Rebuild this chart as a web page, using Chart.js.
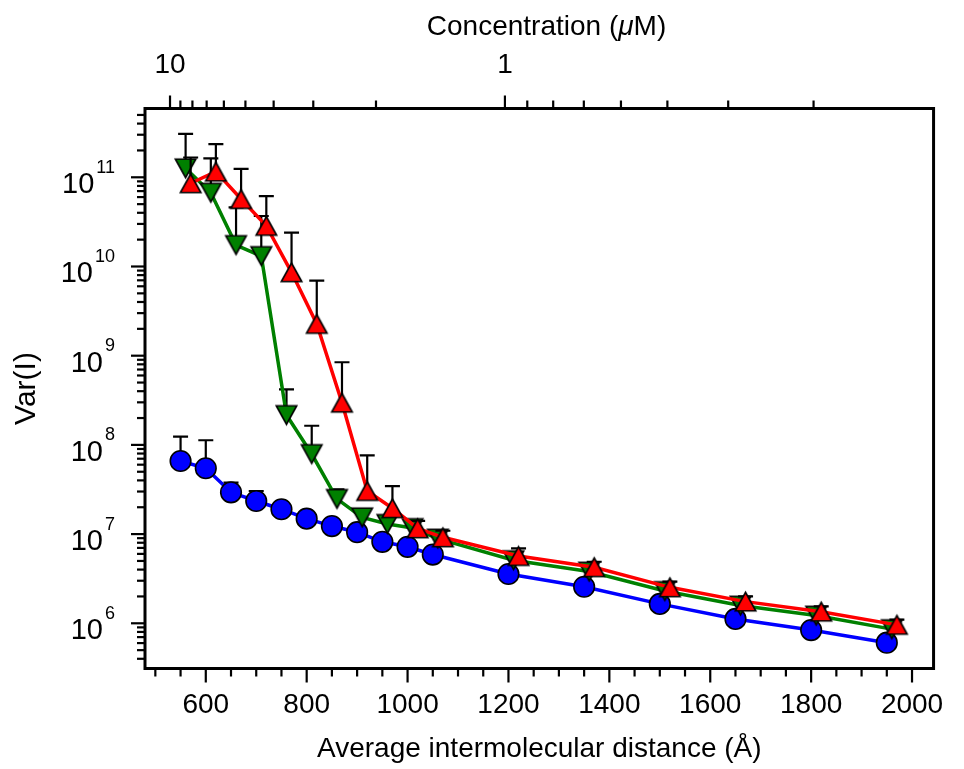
<!DOCTYPE html>
<html>
<head>
<meta charset="utf-8">
<script src="https://cdn.jsdelivr.net/npm/chart.js@4.4.1/dist/chart.umd.min.js"></script>
<style>
  html, body { margin: 0; padding: 0; background: #fff; }
  #wrap { width: 964px; height: 769px; }
</style>
</head>
<body>
<div id="wrap"><canvas id="varChart" width="964" height="769"></canvas></div>
<script>
// distance (Å), variance and upper error for each series
const blueDist = [550, 600, 650, 700, 750, 800, 850, 900, 950, 1000, 1050, 1200, 1350, 1500, 1650, 1800, 1950];
const blueVar = [6.6e7, 5.47e7, 2.94e7, 2.35e7, 1.9e7, 1.49e7, 1.23e7, 1.05e7, 8.2e6, 7.2e6, 5.9e6, 3.57e6, 2.57e6, 1.65e6, 1.12e6, 8.4e5, 6.06e5];
const blueErr = [5.8e7, 5.8e7, 8.3e6, 6.9e6, 3e6, 2e6, 1.5e6, 1.2e6, 1e6, 8e5, 6e5, 4e5, 3e5, 2e5, 1.2e5, 9e4, 6e4];

const greenDist = [560, 610, 660, 710, 760, 810, 860, 910, 960, 1010, 1060, 1210, 1360, 1510, 1660, 1810, 1960];
const greenVar = [1.26e11, 6.72e10, 1.74e10, 1.31e10, 2.16e8, 7.9e7, 2.48e7, 1.54e7, 1.3e7, 1.17e7, 8.9e6, 5.1e6, 3.8e6, 2.3e6, 1.58e6, 1.22e6, 8.6e5];
const greenErr = [1.8e11, 9.6e10, 2.87e10, 2.37e10, 2.04e8, 8.5e7, 7e6, 2.9e6, 2.1e6, 1.5e6, 1.1e6, 7e5, 5e5, 3e5, 2e5, 1.5e5, 1.1e5];

const redDist = [570, 620, 670, 720, 770, 820, 870, 920, 970, 1020, 1070, 1220, 1370, 1520, 1670, 1820, 1970];
const redVar = [8.57e10, 1.156e11, 5.71e10, 2.85e10, 8.61e9, 2.27e9, 2.97e8, 3.04e7, 1.95e7, 1.16e7, 9.2e6, 5.68e6, 4.25e6, 2.53e6, 1.75e6, 1.35e6, 9.6e5];
const redErr = [8.1e10, 1.2e11, 6.7e10, 3.3e10, 1.53e10, 4.66e9, 5.47e8, 4.6e7, 1.5e7, 2.5e6, 1.7e6, 1.25e6, 6.5e5, 4e5, 2.5e5, 2e5, 1.4e5];

// axis ticks
const distLabelTicks = [600, 800, 1000, 1200, 1400, 1600, 1800, 2000];
const distMinorStep = 50;
const concTicks = [10, 9, 8, 7, 6, 5, 4, 3, 2, 1, 0.9, 0.8, 0.7, 0.6, 0.5, 0.4, 0.3];
const concLabels = [10, 1];
const varDecades = [6, 7, 8, 9, 10, 11];

const DIST_MIN = 479.5, DIST_MAX = 2042.7;
const VAR_MIN = 3.113e5, VAR_MAX = 5.905e11;

// concentration (µM) -> average distance (Å), calibrated to the top axis
const concToDist = c => 1239.0 * Math.pow(c, -1 / 3) - 46.0;

const FONT = "'Liberation Sans', Arial, Helvetica, sans-serif";
Chart.defaults.font.family = FONT;
Chart.defaults.color = '#000';

function triangleMarker(fill, up) {
  const w = 20.5, h = 18.5, pad = 3;
  const c = document.createElement('canvas');
  c.width = Math.ceil(w + pad * 2);
  c.height = Math.ceil(h + pad * 2);
  const ox = (c.width - w) / 2, oy = (c.height - h) / 2;
  const g = c.getContext('2d');
  g.beginPath();
  if (up) {
    g.moveTo(ox + w / 2, oy);
    g.lineTo(ox + w, oy + h);
    g.lineTo(ox, oy + h);
  } else {
    g.moveTo(ox, oy);
    g.lineTo(ox + w, oy);
    g.lineTo(ox + w / 2, oy + h);
  }
  g.closePath();
  g.fillStyle = fill;
  g.fill();
  g.lineWidth = 1.6;
  g.strokeStyle = '#000';
  g.stroke();
  return c;
}

const toPoints = (xs, ys) => xs.map((x, i) => ({ x: x, y: ys[i] }));

// upper error bars, drawn just under each series
const errorBars = {
  id: 'errorBars',
  beforeDatasetDraw(chart, args) {
    const ds = chart.data.datasets[args.index];
    if (!ds.errorPlus) return;
    const ctx = chart.ctx;
    const yScale = chart.scales.y;
    ctx.save();
    ctx.strokeStyle = '#000';
    ctx.lineWidth = 2.2;
    args.meta.data.forEach((el, i) => {
      const v = ds.data[i].y;
      const top = yScale.getPixelForValue(v + ds.errorPlus[i]);
      ctx.beginPath();
      ctx.moveTo(el.x, el.y);
      ctx.lineTo(el.x, top);
      ctx.moveTo(el.x - 7.5, top);
      ctx.lineTo(el.x + 7.5, top);
      ctx.stroke();
    });
    ctx.restore();
  }
};

// frame, tick marks, power-of-ten labels and the top title
const axisMarks = {
  id: 'axisMarks',
  afterDraw(chart) {
    const { ctx, chartArea: a, scales } = chart;
    const seg = (x1, y1, x2, y2) => {
      ctx.beginPath();
      ctx.moveTo(x1, y1);
      ctx.lineTo(x2, y2);
      ctx.stroke();
    };
    ctx.save();
    ctx.strokeStyle = '#000';
    ctx.lineWidth = 2.2;
    scales.x.ticks.forEach(t => {
      const px = scales.x.getPixelForValue(t.value);
      seg(px, a.bottom, px, a.bottom + (t.major ? 14 : 8));
    });
    scales.x2.ticks.forEach(t => {
      const px = scales.x2.getPixelForValue(t.value);
      seg(px, a.top, px, a.top - (t.major ? 13 : 8));
    });
    scales.y.ticks.forEach(t => {
      const py = scales.y.getPixelForValue(t.value);
      seg(a.left, py, a.left - (t.major ? 14 : 8), py);
    });
    ctx.lineWidth = 3;
    ctx.strokeRect(a.left, a.top, a.right - a.left, a.bottom - a.top);

    // y labels: 10 with a raised exponent
    ctx.fillStyle = '#000';
    ctx.textBaseline = 'alphabetic';
    ctx.textAlign = 'left';
    const right = 115;
    varDecades.forEach(k => {
      const py = scales.y.getPixelForValue(Math.pow(10, k));
      ctx.font = '18px ' + FONT;
      const ew = ctx.measureText(String(k)).width;
      ctx.fillText(String(k), right - ew, py - 4.5);
      ctx.font = '29px ' + FONT;
      const tw = ctx.measureText('10').width;
      ctx.fillText('10', right - ew - 2 - tw, py + 16);
    });

    // top title with italic mu
    const parts = [['Concentration (', ''], ['\u03bc', 'italic '], ['M)', '']];
    let total = 0;
    parts.forEach(p => {
      ctx.font = p[1] + '28px ' + FONT;
      total += ctx.measureText(p[0]).width;
    });
    let tx = 546.5 - total / 2;
    parts.forEach(p => {
      ctx.font = p[1] + '28px ' + FONT;
      ctx.fillText(p[0], tx, 35);
      tx += ctx.measureText(p[0]).width;
    });
    ctx.restore();
  }
};

new Chart(document.getElementById('varChart'), {
  type: 'line',
  data: {
    datasets: [
      {
        label: 'red',
        data: toPoints(redDist, redVar),
        errorPlus: redErr,
        borderColor: '#ff0000',
        borderWidth: 3.5,
        pointStyle: triangleMarker('#ff0000', true),
        order: 0
      },
      {
        label: 'green',
        data: toPoints(greenDist, greenVar),
        errorPlus: greenErr,
        borderColor: '#008000',
        borderWidth: 3.5,
        pointStyle: triangleMarker('#008000', false),
        order: 1
      },
      {
        label: 'blue',
        data: toPoints(blueDist, blueVar),
        errorPlus: blueErr,
        borderColor: '#0000ff',
        borderWidth: 3.5,
        pointStyle: 'circle',
        pointRadius: 10.3,
        pointBorderWidth: 1.6,
        pointBorderColor: '#000',
        pointBackgroundColor: '#0000ff',
        order: 2
      }
    ]
  },
  options: {
    responsive: false,
    animation: false,
    devicePixelRatio: 1,
    layout: { padding: { left: 0, right: 11, top: 0, bottom: 0 } },
    plugins: { legend: { display: false }, tooltip: { enabled: false } },
    elements: { line: { tension: 0, fill: false } },
    scales: {
      x: {
        type: 'linear',
        position: 'bottom',
        min: DIST_MIN,
        max: DIST_MAX,
        grid: { display: false, drawTicks: false },
        border: { display: false },
        afterBuildTicks(axis) {
          const ticks = [];
          for (let v = 500; v <= 2000; v += distMinorStep) {
            ticks.push({ value: v, major: distLabelTicks.includes(v) });
          }
          axis.ticks = ticks;
        },
        ticks: {
          autoSkip: false,
          maxRotation: 0,
          padding: 20,
          font: { size: 28 },
          callback: v => (distLabelTicks.includes(v) ? String(v) : '')
        },
        title: {
          display: true,
          text: 'Average intermolecular distance (\u00c5)',
          font: { size: 28 },
          padding: { top: 0, bottom: 3 }
        },
        afterFit(axis) { axis.height = 100.5; }
      },
      x2: {
        type: 'linear',
        position: 'top',
        min: DIST_MIN,
        max: DIST_MAX,
        grid: { display: false, drawTicks: false },
        border: { display: false },
        afterBuildTicks(axis) {
          axis.ticks = concTicks.map(c => ({
            value: concToDist(c),
            conc: c,
            major: concLabels.includes(c)
          }));
        },
        ticks: {
          autoSkip: false,
          maxRotation: 0,
          padding: 26,
          font: { size: 28 },
          callback: (v, i, ticks) => (ticks[i].major ? String(ticks[i].conc) : '')
        },
        afterFit(axis) { axis.height = 108.5; }
      },
      y: {
        type: 'logarithmic',
        position: 'left',
        min: VAR_MIN,
        max: VAR_MAX,
        grid: { display: false, drawTicks: false },
        border: { display: false },
        afterBuildTicks(axis) {
          const ticks = [];
          for (let k = 5; k <= 11; k++) {
            for (let m = 1; m <= 9; m++) {
              const v = m * Math.pow(10, k);
              if (v >= VAR_MIN && v <= VAR_MAX) ticks.push({ value: v, major: m === 1 });
            }
          }
          axis.ticks = ticks;
        },
        ticks: { display: false },
        title: {
          display: true,
          text: 'Var(I)',
          font: { size: 30 },
          padding: { top: 9, bottom: 0 }
        },
        afterFit(axis) { axis.width = 145; }
      }
    }
  },
  plugins: [errorBars, axisMarks]
});
</script>
</body>
</html>
